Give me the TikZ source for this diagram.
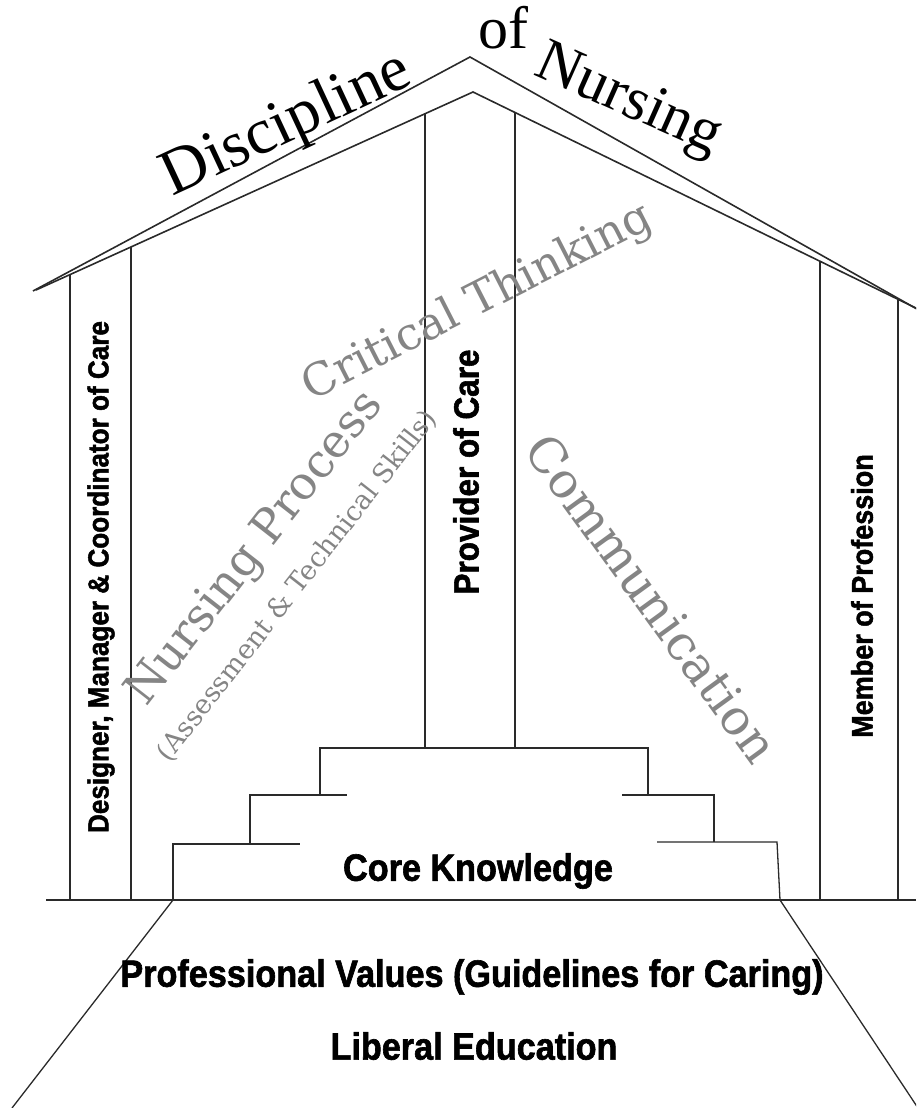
\documentclass[tikz,border=0pt]{standalone}
\usepackage{fontspec}
\setmainfont{Liberation Serif}
\newfontfamily\heavyfont[FakeStretch=0.9,FakeBold=1.6]{Liberation Sans Bold}
\newfontfamily\grayfont{DejaVu Serif}
\definecolor{linegray}{HTML}{2A2A2A}
\definecolor{textgray}{HTML}{858585}
\begin{document}
\begin{tikzpicture}[x=1pt,y=-1pt,
  roofline/.style={draw=linegray, line width=1.6pt, line join=miter},
  wall/.style={draw=linegray, line width=1.3pt},
  titletext/.style={inner sep=0pt, font=\fontsize{#1}{#1}\selectfont},
  graytext/.style={inner sep=0pt, text=textgray, font=\grayfont\fontsize{#1}{#1}\selectfont},
  boldtext/.style={inner sep=0pt, text=black, font=\heavyfont\fontsize{#1}{#1}\selectfont}
]
\useasboundingbox (0,0) rectangle (916,1108);
\clip (0,0) rectangle (916,1108);

% roof
\coordinate (roL) at (33,291);
\coordinate (roA) at (470,57);
\coordinate (roR) at (924,313);
\coordinate (riL) at (36,290);
\coordinate (riA) at (473,92);
\coordinate (riR) at (924,312);
\draw[roofline] (roL) -- (roA) -- (roR);
\draw[roofline] (riL) -- (riA) -- (riR);

% walls
\draw[wall] (70,274) -- (70,900);
\draw[wall] (131,247) -- (131,900);
\draw[wall] (820,261) -- (820,900);
\draw[wall] (898,299) -- (898,900);
\draw[wall] (425,113) -- (425,748);
\draw[wall] (515,112) -- (515,748);

% ground
\draw[wall] (46,900) -- (916,900);

% steps
\draw[wall] (320,795) -- (320,748) -- (648,748) -- (648,795);
\draw[wall] (250,844) -- (250,795) -- (347,795);
\draw[wall] (622,795) -- (714,795) -- (714,842);
\draw[wall] (173,900) -- (173,844) -- (300,844);
\draw[wall] (657,842) -- (777,842) -- (780,900);

% foundation
\draw[wall] (173,900) -- (12,1108);
\draw[wall] (780,900) -- (918,1108);

% title
\node[titletext=65, rotate=25] (disc) at (287,126) {Discipline};
\node[titletext=60] (of) at (503,28) {of};
\node[titletext=61, rotate=-24] (nurs) at (628,102) {Nursing};

% gray labels
\node[graytext=45, rotate=27] (crit) at (478,303) {Critical Thinking};
\node[graytext=46, rotate=52] (np) at (256,549) {Nursing Process};
\node[graytext=27, rotate=52] (ats) at (297,586) {(Assessment \& Technical Skills)};
\node[graytext=49, rotate=-54] (comm) at (652,598) {Communication};

% bold labels
\node[boldtext=29, rotate=90] (des) at (101,577) {Designer, Manager \& Coordinator of Care};
\node[boldtext=35, rotate=90] (prov) at (466,472) {Provider of Care};
\node[boldtext=30, rotate=90] (mem) at (862,596) {Member of Profession};
\node[boldtext=38] (core) at (478,871) {Core Knowledge};
\node[boldtext=38] (pv) at (472,977) {Professional Values (Guidelines for Caring)};
\node[boldtext=38] (le) at (474,1046) {Liberal Education};
\end{tikzpicture}
\end{document}
